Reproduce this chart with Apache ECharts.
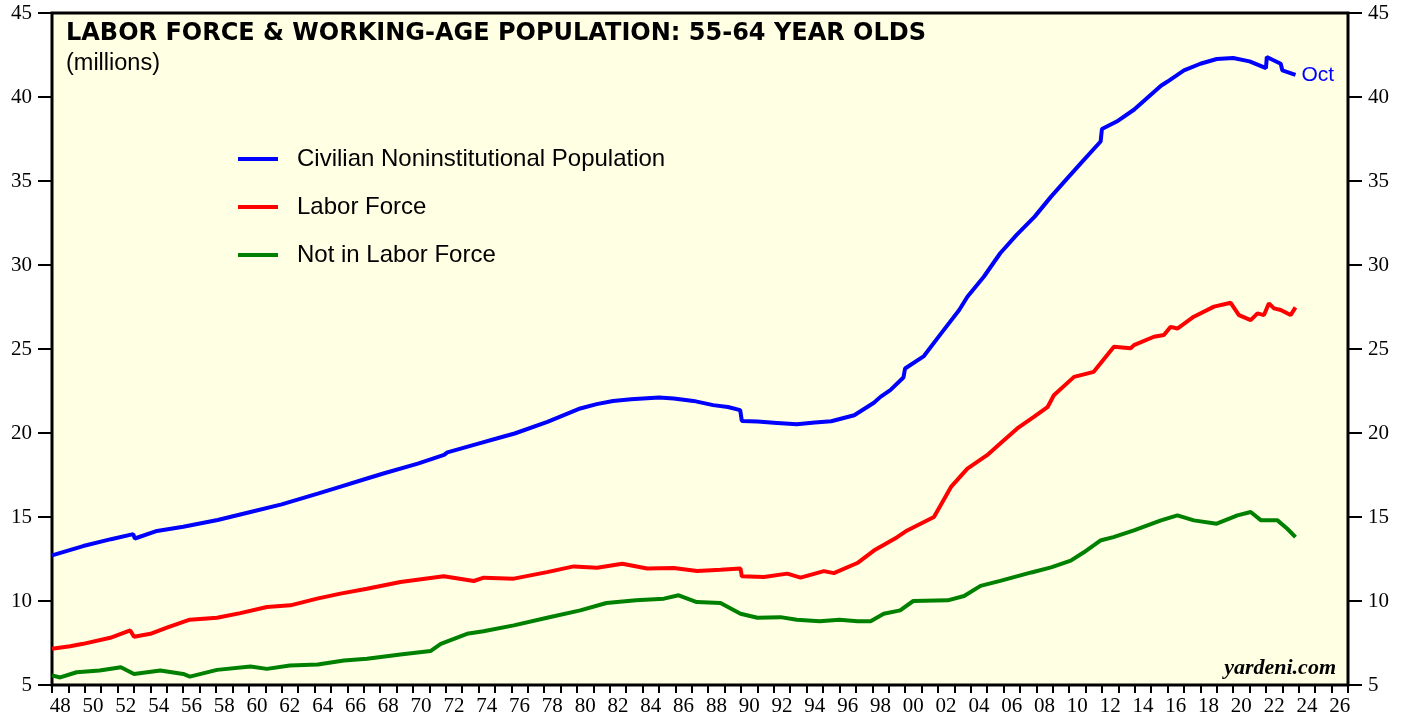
<!DOCTYPE html>
<html>
<head>
<meta charset="utf-8">
<title>Labor Force & Working-Age Population: 55-64</title>
<script src="https://cdn.jsdelivr.net/npm/echarts@6/dist/echarts.min.js"></script>
<style>
  html, body { margin: 0; padding: 0; background: #fff; }
  #main { width: 1408px; height: 719px; }
</style>
</head>
<body>
<div id="main"></div>
<script>
// year labels under the axis (one category per year, label every 2nd)
const yearLabels = [];
for (let y = 1948; y <= 2026; y++) {
  yearLabels.push(String(y % 100).padStart(2, '0'));
}
const yTicks = [5, 10, 15, 20, 25, 30, 35, 40, 45];

// Civilian Noninstitutional Population (millions)
const popYears = [1948.0, 1949.9, 1951.6, 1952.95, 1953.05, 1954.4, 1956.0, 1958.1, 1960.1, 1962.0, 1964.2, 1965.2, 1967.2, 1968.2, 1970.3, 1971.9, 1972.1, 1974.1, 1975.1, 1976.2, 1978.2, 1979.2, 1980.2, 1981.2, 1982.2, 1983.3, 1985.0, 1985.9, 1987.1, 1988.3, 1989.2, 1989.95, 1990.05, 1991.0, 1992.2, 1993.4, 1994.5, 1995.5, 1996.9, 1998.1, 1998.5, 1999.1, 1999.9, 2000.0, 2001.15, 2002.2, 2003.3, 2003.8, 2004.8, 2005.8, 2006.8, 2007.9, 2008.9, 2009.9, 2010.9, 2011.92, 2012.0, 2012.9, 2013.95, 2015.6, 2016.0, 2017.0, 2018.0, 2019.0, 2020.0, 2021.0, 2022.0, 2022.05, 2022.9, 2023.0, 2023.8];
const popValues = [12.72, 13.27, 13.68, 13.98, 13.72, 14.17, 14.42, 14.82, 15.30, 15.75, 16.39, 16.69, 17.29, 17.59, 18.18, 18.70, 18.85, 19.40, 19.67, 19.97, 20.66, 21.06, 21.46, 21.72, 21.91, 22.01, 22.12, 22.05, 21.91, 21.66, 21.55, 21.36, 20.72, 20.68, 20.60, 20.52, 20.62, 20.70, 21.06, 21.80, 22.15, 22.55, 23.30, 23.84, 24.58, 25.93, 27.32, 28.11, 29.30, 30.70, 31.79, 32.88, 34.07, 35.17, 36.26, 37.35, 38.09, 38.54, 39.24, 40.67, 40.92, 41.58, 41.98, 42.26, 42.32, 42.12, 41.72, 42.38, 41.98, 41.58, 41.32];

// Labor Force (millions)
const lfYears = [1948.0, 1949.1, 1949.9, 1951.55, 1952.77, 1953.0, 1954.0, 1955.0, 1956.4, 1958.06, 1959.48, 1961.1, 1962.53, 1964.16, 1965.58, 1967.2, 1969.24, 1971.88, 1973.71, 1974.32, 1976.15, 1978.18, 1979.8, 1981.23, 1982.76, 1984.28, 1985.9, 1987.33, 1988.75, 1989.97, 1990.05, 1991.39, 1992.82, 1993.63, 1995.05, 1995.66, 1997.09, 1998.1, 1999.52, 2000.13, 2001.76, 2002.8, 2003.8, 2005.0, 2005.8, 2006.84, 2007.85, 2008.7, 2009.07, 2010.3, 2011.5, 2012.73, 2013.75, 2013.95, 2015.17, 2015.78, 2016.19, 2016.6, 2017.6, 2018.83, 2019.85, 2020.35, 2021.07, 2021.48, 2021.88, 2022.18, 2022.49, 2022.9, 2023.5, 2023.8];
const lfValues = [7.16, 7.31, 7.45, 7.81, 8.25, 7.87, 8.05, 8.41, 8.89, 9.00, 9.28, 9.64, 9.74, 10.14, 10.44, 10.73, 11.13, 11.47, 11.19, 11.39, 11.33, 11.72, 12.06, 11.98, 12.22, 11.93, 11.97, 11.78, 11.86, 11.93, 11.47, 11.43, 11.63, 11.39, 11.78, 11.66, 12.26, 13.00, 13.80, 14.20, 15.00, 16.79, 17.88, 18.68, 19.37, 20.27, 20.96, 21.56, 22.25, 23.34, 23.64, 25.13, 25.04, 25.23, 25.73, 25.83, 26.32, 26.22, 26.92, 27.52, 27.75, 27.02, 26.72, 27.12, 27.02, 27.72, 27.42, 27.32, 27.02, 27.48];

// Not in Labor Force (millions)
const nlfYears = [1948.0, 1948.5, 1949.5, 1950.9, 1952.2, 1953.0, 1954.6, 1956.0, 1956.4, 1958.06, 1960.1, 1961.1, 1962.5, 1964.2, 1965.8, 1967.2, 1969.24, 1971.07, 1971.7, 1973.3, 1974.3, 1976.15, 1978.18, 1980.2, 1981.8, 1983.6, 1985.3, 1986.2, 1987.3, 1988.75, 1989.97, 1991.0, 1992.4, 1993.4, 1994.8, 1996.0, 1997.1, 1997.9, 1998.7, 1999.7, 2000.5, 2002.6, 2003.6, 2004.6, 2005.8, 2007.7, 2008.9, 2010.1, 2010.9, 2011.9, 2012.7, 2013.95, 2015.6, 2016.6, 2017.6, 2019.0, 2020.26, 2021.07, 2021.7, 2022.7, 2023.3, 2023.8];
const nlfValues = [5.57, 5.45, 5.76, 5.86, 6.06, 5.66, 5.86, 5.66, 5.50, 5.90, 6.10, 5.96, 6.16, 6.22, 6.46, 6.56, 6.82, 7.02, 7.45, 8.05, 8.20, 8.55, 9.00, 9.44, 9.88, 10.04, 10.14, 10.34, 9.94, 9.88, 9.24, 9.00, 9.04, 8.88, 8.80, 8.88, 8.80, 8.80, 9.24, 9.44, 10.00, 10.04, 10.30, 10.90, 11.20, 11.70, 12.00, 12.40, 12.90, 13.60, 13.80, 14.20, 14.80, 15.10, 14.80, 14.60, 15.10, 15.30, 14.80, 14.80, 14.30, 13.80];

function pairs(xs, ys) {
  const out = [];
  for (let i = 0; i < xs.length; i++) {
    out.push([xs[i], ys[i]]);
  }
  return out;
}

const myChart = echarts.init(document.getElementById('main'));

const axisFont = 'Liberation Serif';
const sansFont = 'Liberation Sans';

const yAxisCommon = {
  type: 'value',
  min: yTicks[0],
  max: yTicks[yTicks.length - 1],
  interval: 5,
  axisLine: {show: false},
  axisTick: {show: true, length: 14, lineStyle: {color: '#000', width: 2}},
  axisLabel: {color: '#000', fontFamily: axisFont, fontSize: 21, margin: 20},
  splitLine: {show: false}
};

const option = {
  animation: false,
  backgroundColor: '#fff',
  title: {
    text: 'LABOR FORCE & WORKING-AGE POPULATION: 55-64 YEAR OLDS',
    subtext: '(millions)',
    left: 66,
    top: 22,
    itemGap: 6,
    padding: 0,
    textStyle: {color: '#000', fontFamily: 'DejaVu Sans', fontWeight: 'bold', fontSize: 24},
    subtextStyle: {color: '#000', fontFamily: sansFont, fontSize: 23.5}
  },
  legend: {
    orient: 'vertical',
    left: 238,
    top: 147,
    icon: 'rect',
    itemWidth: 40,
    itemHeight: 4,
    itemGap: 24,
    padding: 0,
    textStyle: {color: '#000', fontFamily: sansFont, fontSize: 24, lineHeight: 24, padding: [0, 0, 0, 14]},
    data: ['Civilian Noninstitutional Population', 'Labor Force', 'Not in Labor Force']
  },
  grid: {
    left: 52,
    right: 60,
    top: 13,
    bottom: 34,
    show: true,
    backgroundColor: '#FFFFE3',
    borderColor: '#000',
    borderWidth: 3
  },
  xAxis: [
    {
      // value axis for the data (decimal years)
      type: 'value',
      min: 1948,
      max: 2027,
      show: false
    },
    {
      // year boxes: ticks at year boundaries, labels centred in the year
      type: 'category',
      position: 'bottom',
      data: yearLabels,
      boundaryGap: true,
      axisLine: {show: false},
      axisTick: {show: true, interval: 0, length: 8, lineStyle: {color: '#000', width: 2}},
      axisLabel: {interval: 1, color: '#000', fontFamily: axisFont, fontSize: 21, margin: 11},
      splitLine: {show: false}
    }
  ],
  yAxis: [
    Object.assign({position: 'left'}, yAxisCommon),
    Object.assign({position: 'right'}, yAxisCommon)
  ],
  graphic: [
    {
      type: 'text',
      right: 72,
      top: 657,
      style: {
        text: 'yardeni.com',
        fill: '#000',
        font: 'italic bold 22px "Liberation Serif"'
      }
    }
  ],
  series: [
    {
      name: 'Not in Labor Force',
      type: 'line',
      xAxisIndex: 0,
      yAxisIndex: 0,
      showSymbol: false,
      lineStyle: {color: '#008000', width: 4},
      itemStyle: {color: '#008000'},
      data: pairs(nlfYears, nlfValues)
    },
    {
      name: 'Labor Force',
      type: 'line',
      xAxisIndex: 0,
      yAxisIndex: 0,
      showSymbol: false,
      lineStyle: {color: '#FF0000', width: 4},
      itemStyle: {color: '#FF0000'},
      data: pairs(lfYears, lfValues)
    },
    {
      name: 'Civilian Noninstitutional Population',
      type: 'line',
      xAxisIndex: 0,
      yAxisIndex: 0,
      showSymbol: false,
      lineStyle: {color: '#0000FF', width: 4},
      itemStyle: {color: '#0000FF'},
      endLabel: {
        show: true,
        formatter: 'Oct',
        color: '#0000FF',
        fontFamily: sansFont,
        fontSize: 21,
        distance: 6
      },
      data: pairs(popYears, popValues)
    }
  ]
};

myChart.setOption(option);
</script>
</body>
</html>
